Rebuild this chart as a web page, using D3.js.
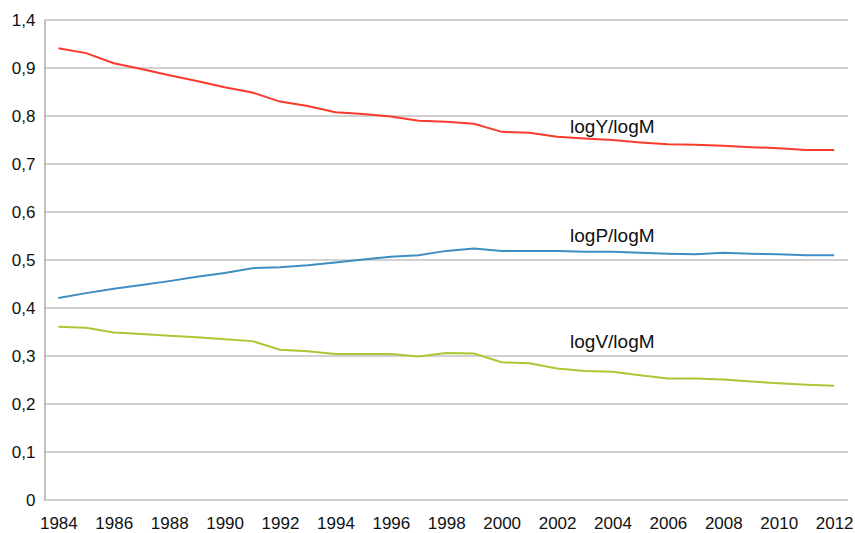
<!DOCTYPE html>
<html lang="en">
  <head>
    <meta http-equiv="Content-Type" content="text/html; charset=utf-8"/>
    <style>
body {
  margin: 0;
  background: #fff;
  overflow: hidden;
}
svg {
  display: block;
}
text {
  font-family: "Liberation Sans", Arial, Helvetica, sans-serif;
  fill: #111;
}
.grid line {
  stroke: #a3a3a3;
  stroke-width: 1.2;
}
.series {
  fill: none;
  stroke-width: 2;
}
    </style>
  </head>
  <body>
    <svg id="chart" width="855" height="533"></svg>
    <script src="https://d3js.org/d3.v7.min.js"></script>
    <script>

var years = d3.range(1984, 2013);

var yTickValues = [0, 0.1, 0.2, 0.3, 0.4, 0.5, 0.6, 0.7, 0.8, 0.9, 1.0];
var yTickLabels = ["0", "0,1", "0,2", "0,3", "0,4", "0,5", "0,6", "0,7", "0,8", "0,9", "1,4"];

var logYlogM = [0.941, 0.931, 0.910, 0.898, 0.885, 0.873, 0.860, 0.849, 0.830, 0.821,
                0.808, 0.804, 0.799, 0.790, 0.788, 0.784, 0.767, 0.765, 0.757, 0.753,
                0.750, 0.745, 0.741, 0.740, 0.738, 0.735, 0.733, 0.729, 0.729];
var logPlogM = [0.421, 0.431, 0.440, 0.448, 0.456, 0.465, 0.473, 0.483, 0.485, 0.489,
                0.495, 0.501, 0.507, 0.510, 0.519, 0.524, 0.519, 0.519, 0.519, 0.517,
                0.517, 0.515, 0.513, 0.512, 0.515, 0.513, 0.512, 0.510, 0.510];
var logVlogM = [0.361, 0.359, 0.349, 0.346, 0.342, 0.339, 0.335, 0.331, 0.313, 0.310,
                0.304, 0.304, 0.304, 0.299, 0.306, 0.305, 0.287, 0.285, 0.274, 0.269,
                0.267, 0.260, 0.253, 0.253, 0.251, 0.247, 0.243, 0.240, 0.238];

var seriesNames = ["logY/logM", "logP/logM", "logV/logM"];
var seriesColors = ["#fa3a2c", "#3f8dc2", "#a8c934"];
// where each name sits: year it starts at and value of its baseline
var labelYears = [2002, 2002, 2002];
var labelValues = [0.765, 0.5375, 0.317];

var svg = d3.select("#chart");
var plotLeft = 44.5, plotRight = 848, plotTop = 20, plotBottom = 500;

var x = d3.scalePoint()
  .domain(years)
  .range([plotLeft, plotRight])
  .padding(0.5);

var y = d3.scaleLinear()
  .domain([0, 1])
  .range([plotBottom, plotTop]);

// horizontal grid
svg.append("g")
  .attr("class", "grid")
  .selectAll("line")
  .data(yTickValues)
  .enter()
  .append("line")
  .attr("x1", plotLeft)
  .attr("x2", plotRight)
  .attr("y1", function(d) { return y(d); })
  .attr("y2", function(d) { return y(d); });

// y axis
var yAxis = svg.append("g")
  .attr("transform", "translate(" + plotLeft + ",0)")
  .call(d3.axisLeft(y)
    .tickValues(yTickValues)
    .tickFormat(function(d, i) { return yTickLabels[i]; })
    .tickSize(0)
    .tickPadding(9));
yAxis.select(".domain").attr("stroke", "#999").attr("stroke-width", 1.2);
yAxis.selectAll("text")
  .style("font-size", "17px")
  .attr("fill", "#111");

// x axis labels
var xAxis = svg.append("g")
  .attr("transform", "translate(0," + plotBottom + ")")
  .call(d3.axisBottom(x)
    .tickValues(years.filter(function(d) { return d % 2 === 0; }))
    .tickSize(0)
    .tickPadding(17));
xAxis.select(".domain").remove();
xAxis.selectAll("text")
  .style("font-size", "17px")
  .attr("fill", "#111");

var line = d3.line()
  .x(function(d, i) { return x(years[i]); })
  .y(function(d) { return y(d); });

var allSeries = [logYlogM, logPlogM, logVlogM];

svg.append("g")
  .selectAll("path")
  .data(allSeries)
  .enter()
  .append("path")
  .attr("class", "series")
  .attr("stroke", function(d, i) { return seriesColors[i]; })
  .attr("d", line);

svg.append("g")
  .selectAll("text")
  .data(seriesNames)
  .enter()
  .append("text")
  .attr("x", function(d, i) { return x(labelYears[i]) + 13; })
  .attr("y", function(d, i) { return y(labelValues[i]); })
  .style("font-size", "19px")
  .text(function(d) { return d; });

    </script>
  </body>
</html>
